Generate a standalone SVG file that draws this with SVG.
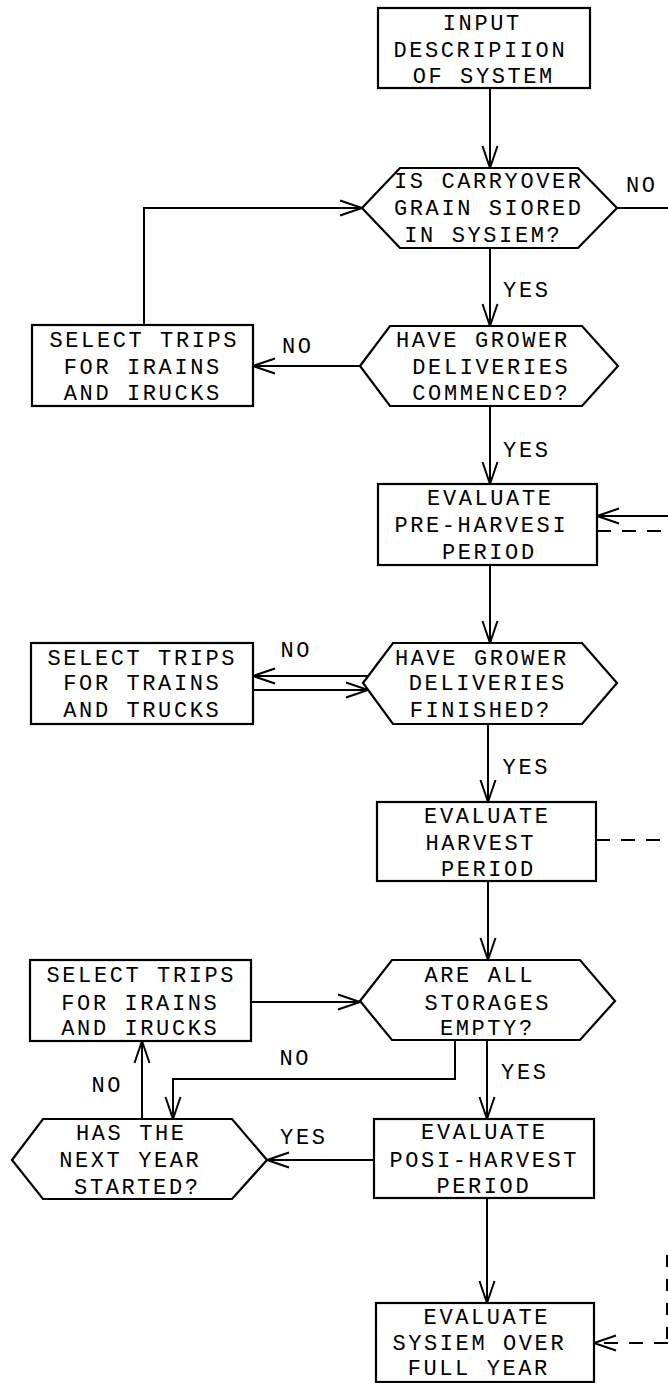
<svg xmlns="http://www.w3.org/2000/svg" width="668" height="1383" viewBox="0 0 668 1383">
<style>
.n{fill:#fff;stroke:#000;stroke-width:2.2}
.t{font-family:"Liberation Mono","DejaVu Sans Mono",monospace;font-size:22px;letter-spacing:2.6px;text-anchor:middle;fill:#000}
.c{fill:none;stroke:#000;stroke-width:2}
.d{stroke-dasharray:14 11}
.a{marker-end:url(#arr)}
</style>
<defs>
<marker id="arr" markerUnits="userSpaceOnUse" markerWidth="26" markerHeight="18" refX="22" refY="7.5" orient="auto" overflow="visible">
<path d="M0,0 L22,7.5 L0,15" fill="none" stroke="#000" stroke-width="2"/>
</marker>
</defs>
<rect width="668" height="1383" fill="#fff"/>
<g id="connectors">
<path class="c a" d="M490,88 V168"/>
<path class="c a" d="M490,248 V326"/>
<path class="c a" d="M360,366 H253"/>
<path class="c a" d="M144,325 V208 H362"/>
<path class="c" d="M617,208 H668"/>
<path class="c a" d="M490,406 V484"/>
<path class="c a" d="M668,516 H597"/>
<path class="c d" d="M597,531 H668"/>
<path class="c a" d="M490,565 V643"/>
<path class="c a" d="M368,676 H253"/>
<path class="c a" d="M253,690 H368"/>
<path class="c a" d="M488,724 V802"/>
<path class="c d" d="M596,840 H668"/>
<path class="c a" d="M488,881 V960"/>
<path class="c a" d="M251,1002 H360"/>
<path class="c a" d="M455,1040 V1079 H173 V1119"/>
<path class="c a" d="M142,1119 V1041"/>
<path class="c a" d="M487,1040 V1119"/>
<path class="c a" d="M374,1160 H267"/>
<path class="c a" d="M487,1198 V1303"/>
<path class="c d a" d="M668,1343 H594"/>
<path class="c" d="M667,1255 V1343" stroke-dasharray="12 12"/>
<text class="t" x="641.8" y="192">NO</text>
<text class="t" x="526.8" y="297">YES</text>
<text class="t" x="297.8" y="353">NO</text>
<text class="t" x="526.8" y="457">YES</text>
<text class="t" x="296.3" y="657">NO</text>
<text class="t" x="526.3" y="774">YES</text>
<text class="t" x="295.3" y="1065">NO</text>
<text class="t" x="107.3" y="1092">NO</text>
<text class="t" x="524.8" y="1079">YES</text>
<text class="t" x="303.8" y="1144">YES</text>
</g>
<g id="input">
<rect class="n" x="378" y="8" width="212" height="80"/>
<text class="t" x="482.3" y="30">INPUT</text>
<text class="t" x="480.3" y="57">DESCRIPIION</text>
<text class="t" x="483.8" y="83">OF SYSTEM</text>
</g>
<g id="carryover">
<polygon class="n" points="362,208 400,168 578,168 617,208 578,248 400,248"/>
<text class="t" x="488.8" y="188">IS CARRYOVER</text>
<text class="t" x="488.8" y="215">GRAIN SIORED</text>
<text class="t" x="483.3" y="242">IN SYSIEM?</text>
</g>
<g id="select1">
<rect class="n" x="32" y="325" width="221" height="81"/>
<text class="t" x="144.3" y="346.5">SELECT TRIPS</text>
<text class="t" x="142.8" y="374">FOR IRAINS</text>
<text class="t" x="142.8" y="400">AND IRUCKS</text>
</g>
<g id="commenced">
<polygon class="n" points="360,366 390,326 582,326 618,366 582,406 390,406"/>
<text class="t" x="482.8" y="346.5">HAVE GROWER</text>
<text class="t" x="491.3" y="374">DELIVERIES</text>
<text class="t" x="491.3" y="400">COMMENCED?</text>
</g>
<g id="preharvest">
<rect class="n" x="378" y="484" width="219" height="81"/>
<text class="t" x="490.3" y="505">EVALUATE</text>
<text class="t" x="481.3" y="532">PRE-HARVESI</text>
<text class="t" x="489.3" y="559">PERIOD</text>
</g>
<g id="select2">
<rect class="n" x="31" y="643" width="222" height="81"/>
<text class="t" x="142.3" y="665">SELECT TRIPS</text>
<text class="t" x="142.3" y="690">FOR TRAINS</text>
<text class="t" x="142.3" y="717">AND TRUCKS</text>
</g>
<g id="finished">
<polygon class="n" points="363,683 393,643 582,643 617,683 582,724 393,724"/>
<text class="t" x="481.8" y="665">HAVE GROWER</text>
<text class="t" x="487.8" y="690">DELIVERIES</text>
<text class="t" x="480.8" y="717">FINISHED?</text>
</g>
<g id="harvest">
<rect class="n" x="377" y="802" width="219" height="79"/>
<text class="t" x="487.3" y="823">EVALUATE</text>
<text class="t" x="480.8" y="850">HARVEST</text>
<text class="t" x="488.3" y="876">PERIOD</text>
</g>
<g id="select3">
<rect class="n" x="30" y="960" width="221" height="81"/>
<text class="t" x="141.3" y="982">SELECT TRIPS</text>
<text class="t" x="140.3" y="1010">FOR IRAINS</text>
<text class="t" x="140.3" y="1035">AND IRUCKS</text>
</g>
<g id="storages">
<polygon class="n" points="360,1001 392,960 580,960 615,1001 580,1040 392,1040"/>
<text class="t" x="479.8" y="982">ARE ALL</text>
<text class="t" x="487.8" y="1010">STORAGES</text>
<text class="t" x="487.3" y="1035">EMPTY?</text>
</g>
<g id="nextyear">
<polygon class="n" points="12,1160 43,1119 232,1119 267,1160 232,1199 43,1199"/>
<text class="t" x="131.3" y="1140">HAS THE</text>
<text class="t" x="130.3" y="1167">NEXT YEAR</text>
<text class="t" x="137.3" y="1194">STARTED?</text>
</g>
<g id="postharvest">
<rect class="n" x="374" y="1119" width="220" height="79"/>
<text class="t" x="484.3" y="1139">EVALUATE</text>
<text class="t" x="484.3" y="1167">POSI-HARVEST</text>
<text class="t" x="483.8" y="1193">PERIOD</text>
</g>
<g id="fullyear">
<rect class="n" x="376" y="1303" width="218" height="79"/>
<text class="t" x="486.8" y="1324">EVALUATE</text>
<text class="t" x="479.3" y="1350">SYSIEM OVER</text>
<text class="t" x="478.8" y="1375">FULL YEAR</text>
</g>
</svg>
